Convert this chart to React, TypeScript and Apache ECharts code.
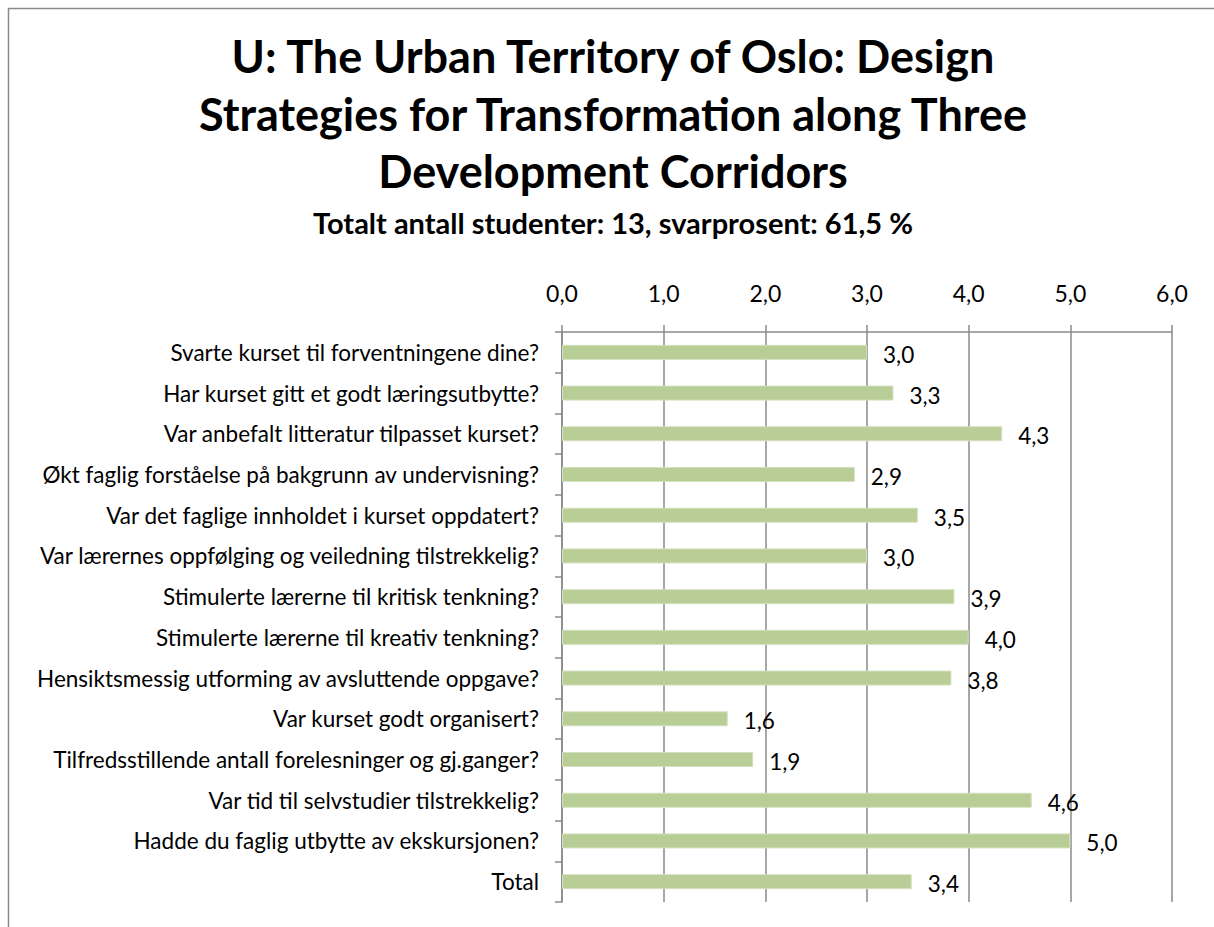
import React, { useEffect, useRef } from 'react';
import * as echarts from 'echarts';

const titleLines = [
  'U: The Urban Territory of Oslo: Design',
  'Strategies for Transformation along Three',
  'Development Corridors',
];
const subtitle = 'Totalt antall studenter: 13, svarprosent: 61,5 %';

const categories = [
  'Svarte kurset til forventningene dine?',
  'Har kurset gitt et godt læringsutbytte?',
  'Var anbefalt litteratur tilpasset kurset?',
  'Økt faglig forståelse på bakgrunn av undervisning?',
  'Var det faglige innholdet i kurset oppdatert?',
  'Var lærernes oppfølging og veiledning tilstrekkelig?',
  'Stimulerte lærerne til kritisk tenkning?',
  'Stimulerte lærerne til kreativ tenkning?',
  'Hensiktsmessig utforming av avsluttende oppgave?',
  'Var kurset godt organisert?',
  'Tilfredsstillende antall forelesninger og gj.ganger?',
  'Var tid til selvstudier tilstrekkelig?',
  'Hadde du faglig utbytte av ekskursjonen?',
  'Total',
];

const values = [3.0, 3.26, 4.33, 2.88, 3.5, 3.0, 3.86, 4.0, 3.83, 1.63, 1.88, 4.62, 5.0, 3.44];

const axisMin = 0;
const axisMax = 6;
const axisStep = 1;

const FONT = 'Lato';
const fmt = (v: number) => v.toFixed(1).replace('.', ',');

export default function App() {
  const ref = useRef<HTMLDivElement>(null);
  useEffect(() => {
    if (!ref.current) return;
    const chart = echarts.init(ref.current, undefined, { renderer: 'svg' });
    const titleY = [56, 114, 171];
    chart.setOption({
      animation: false,
      backgroundColor: '#ffffff',
      textStyle: { fontFamily: FONT },
      graphic: [
        {
          type: 'rect',
          shape: { x: 8.5, y: 8.5, width: 1400, height: 1200 },
          style: { fill: 'none', stroke: '#8a8a8a', lineWidth: 1.5 },
          silent: true,
        },
        ...titleLines.map((t, i) => ({
          type: 'text',
          x: 613,
          y: titleY[i],
          style: {
            text: t,
            fontFamily: FONT,
            fontWeight: 'bold',
            fontSize: 45,
            fill: '#000',
            textAlign: 'center',
            textVerticalAlign: 'middle',
          },
        })),
        {
          type: 'text',
          x: 613,
          y: 222,
          style: {
            text: subtitle,
            fontFamily: FONT,
            fontWeight: 'bold',
            fontSize: 29,
            fill: '#000',
            textAlign: 'center',
            textVerticalAlign: 'middle',
          },
        },
      ],
      grid: { left: 562, right: 42, top: 332, bottom: 25, containLabel: false },
      xAxis: {
        type: 'value',
        position: 'top',
        min: axisMin,
        max: axisMax,
        interval: axisStep,
        axisLine: { show: true, lineStyle: { color: '#8a8a8a', width: 1.5 } },
        axisTick: { show: true, length: 7, lineStyle: { color: '#8a8a8a', width: 1.5 } },
        splitLine: { show: true, lineStyle: { color: '#8a8a8a', width: 1.5 } },
        axisLabel: {
          color: '#000',
          fontSize: 23,
          fontFamily: FONT,
          margin: 28,
          formatter: (v: number) => fmt(v),
        },
      },
      yAxis: {
        type: 'category',
        inverse: true,
        data: categories,
        axisLine: { show: true, lineStyle: { color: '#8a8a8a', width: 1.5 } },
        axisTick: { show: true, length: 7, lineStyle: { color: '#8a8a8a', width: 1.5 } },
        axisLabel: { color: '#000', fontSize: 22.5, fontFamily: FONT, margin: 23 },
      },
      series: [
        {
          type: 'bar',
          data: values,
          barWidth: 15,
          itemStyle: { color: '#B9CD96', borderColor: '#D3E0BE', borderWidth: 1 },
          label: {
            show: true,
            position: 'right',
            distance: 16,
            offset: [0, 2],
            color: '#000',
            fontSize: 22.5,
            fontFamily: FONT,
            formatter: (p: any) => fmt(p.value),
          },
        },
      ],
    });
    return () => chart.dispose();
  }, []);
  return (
    <div
      ref={ref}
      style={{ position: 'fixed', left: 0, top: 0, width: 1214, height: 927 }}
    />
  );
}
